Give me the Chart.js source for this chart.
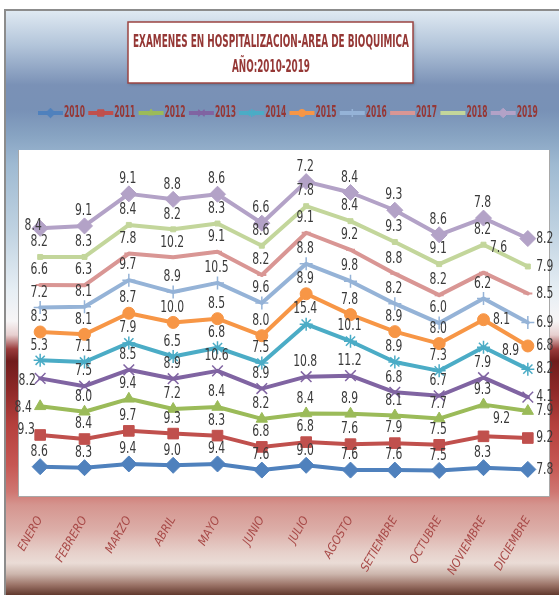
<!DOCTYPE html>
<html>
<head>
<meta charset="utf-8">
<title>Examenes en hospitalizacion - Bioquimica</title>
<script src="https://cdn.jsdelivr.net/npm/chart.js"></script>
<style>
  html, body { margin: 0; padding: 0; background: #fff; overflow: hidden; }
  #wrap { position: relative; width: 559px; height: 595px; overflow: hidden; }
  /* fondo degradado tipo Excel */
  #fondo {
    position: absolute; left: 4px; top: 9px; width: 570px; height: 600px;
    border-left: 2px solid #8c8c8c; border-top: 2px solid #8c8c8c;
    background: linear-gradient(to bottom,
      #dfe9f2 0px, #b3c5da 34px, #7a91b6 74px, #7891b6 99px, #87a3c2 124px,
      #9fbad2 154px, #bfd2e1 219px, #e6eef4 279px, #f7f5f6 310px, #e7cfcf 324px,
      #9a3c3c 338px, #701c1c 350px, #8c2827 378px, #b5403d 414px, #c65753 454px,
      #cf7772 481px, #d5958f 494px, #dcaea8 519px, #e7d1cb 542px, #eadcd6 552px,
      #cdb6ad 563px, #9b7367 574px, #5c3328 585px);
  }
  #grafico { position: absolute; left: 0; top: 0; }
</style>
</head>
<body>
<div id="wrap">
  <div id="fondo"></div>
  <canvas id="grafico" width="559" height="595"></canvas>
</div>
<script>
// meses (eje x) y años (series)
const meses = ['ENERO', 'FEBRERO', 'MARZO', 'ABRIL', 'MAYO', 'JUNIO', 'JULIO', 'AGOSTO', 'SETIEMBRE', 'OCTUBRE', 'NOVIEMBRE', 'DICIEMBRE'];
const anios = ['2010', '2011', '2012', '2013', '2014', '2015', '2016', '2017', '2018', '2019'];

const v2010 = [8.6, 8.3, 9.4, 9.0, 9.4, 7.6, 9.0, 7.6, 7.6, 7.5, 8.3, 7.8];
const v2011 = [9.3, 8.4, 9.7, 9.3, 8.3, 6.8, 6.8, 7.6, 7.9, 7.5, 9.2, 9.2];
const v2012 = [8.4, 8.0, 9.4, 7.2, 8.4, 8.2, 8.4, 8.9, 8.1, 7.7, 9.3, 7.9];
const v2013 = [8.2, 7.5, 8.5, 8.9, 10.6, 8.9, 10.8, 11.2, 6.8, 6.7, 7.9, 4.1];
const v2014 = [5.3, 7.1, 7.9, 6.5, 6.8, 7.5, 15.4, 10.1, 8.9, 7.3, 8.9, 8.2];
const v2015 = [8.3, 8.1, 8.7, 10.0, 8.5, 8.0, 8.9, 7.8, 8.9, 8.0, 8.1, 6.8];
const v2016 = [7.2, 8.1, 9.7, 8.9, 10.5, 9.6, 8.8, 9.8, 8.2, 6.0, 6.2, 6.9];
const v2017 = [6.6, 6.3, 7.8, 10.2, 9.1, 8.2, 9.1, 9.2, 8.8, 8.2, 7.6, 8.5];
const v2018 = [8.2, 8.3, 8.4, 8.2, 8.3, 8.6, 7.8, 8.4, 9.3, 9.1, 8.2, 7.9];
const v2019 = [8.4, 9.1, 9.1, 8.8, 8.6, 6.6, 7.2, 8.4, 9.3, 8.6, 7.8, 8.2];

const series = [v2010, v2011, v2012, v2013, v2014, v2015, v2016, v2017, v2018, v2019];

// estilos de cada serie
const colores = ['#4F81BD', '#C0504D', '#9BBB59', '#8064A2', '#4BACC6', '#F79646', '#95B3D7', '#D99694', '#C3D69B', '#B3A2C7'];
const marcadores = ['rectRot', 'rect', 'triangle', 'crossRot', 'star', 'circle', 'cross', 'line', 'rect', 'rectRot'];
const radios = [8, 7.5, 6.5, 7.5, 6.5, 6, 6.5, 4.5, 3.5, 8];
const bordes = [1, 1, 1, 1.5, 1.5, 1, 1.5, 2, 1, 1];

const rojoTitulo = '#953735';
const fuenteAngosta = '"Liberation Sans Narrow", "DejaVu Sans Condensed", "Arial Narrow", sans-serif';

// texto estirado en vertical (el grafico original esta deformado)
function textoEstirado(ctx, txt, x, y, sy, maxW) {
  ctx.save();
  ctx.translate(x, y);
  ctx.scale(1, sy);
  if (maxW) ctx.fillText(txt, 0, 0, maxW);
  else ctx.fillText(txt, 0, 0);
  ctx.restore();
}

// etiquetas que Excel dejo fuera de su lugar habitual (serie-mes): [dx, dy]
const desplazadas = {
  '1-0': [-14, -5], '2-0': [-17, 1], '3-0': [-13, 2], '9-0': [-7, -3],
  '1-10': [18, -18], '4-10': [27, 3], '5-10': [18, 0], '7-10': [15, -25]
};

// area blanca del grafico
const areaBlanca = {
  id: 'areaBlanca',
  beforeDraw(chart) {
    const { ctx, chartArea } = chart;
    const top = chartArea.top - 5;
    ctx.save();
    ctx.fillStyle = '#ffffff';
    ctx.fillRect(chartArea.left, top, chartArea.right - chartArea.left, chartArea.bottom - top);
    ctx.strokeStyle = '#a8a8a8';
    ctx.lineWidth = 1;
    ctx.beginPath();
    ctx.moveTo(chartArea.left + 0.5, top);
    ctx.lineTo(chartArea.left + 0.5, chartArea.bottom + 0.5);
    ctx.lineTo(chartArea.right - 0.5, chartArea.bottom + 0.5);
    ctx.lineTo(chartArea.right - 0.5, top);
    ctx.stroke();
    ctx.restore();
  }
};

// titulo en recuadro y leyenda
const tituloLeyenda = {
  id: 'tituloLeyenda',
  afterDraw(chart) {
    const ctx = chart.ctx;
    ctx.save();
    // recuadro del titulo
    ctx.shadowColor = 'rgba(0,0,0,0.35)';
    ctx.shadowBlur = 3;
    ctx.shadowOffsetX = 1;
    ctx.shadowOffsetY = 1;
    ctx.fillStyle = '#ffffff';
    ctx.fillRect(128, 22, 285, 61);
    ctx.shadowColor = 'transparent';
    ctx.strokeStyle = '#9c4543';
    ctx.lineWidth = 1.5;
    ctx.strokeRect(128, 22, 285, 61);

    ctx.fillStyle = rojoTitulo;
    ctx.textAlign = 'center';
    ctx.textBaseline = 'middle';
    ctx.font = 'bold 14px ' + fuenteAngosta;
    textoEstirado(ctx, 'EXAMENES EN HOSPITALIZACION-AREA DE BIOQUIMICA', 271, 42, 1.3, 276);
    textoEstirado(ctx, 'AÑO:2010-2019', 271, 67, 1.3, 78);

    // leyenda
    anios.forEach((anio, i) => {
      const x0 = 38 + i * 50.3;
      const y = 113;
      ctx.strokeStyle = colores[i];
      ctx.lineWidth = 4;
      ctx.beginPath();
      ctx.moveTo(x0, y);
      ctx.lineTo(x0 + 25, y);
      ctx.stroke();
      ctx.fillStyle = colores[i];
      ctx.lineWidth = bordes[i];
      if (Chart.helpers && Chart.helpers.drawPoint) {
        Chart.helpers.drawPoint(ctx, { pointStyle: marcadores[i], radius: radios[i] * 0.6, borderWidth: bordes[i], rotation: 0 }, x0 + 12.5, y);
      }
      ctx.fillStyle = rojoTitulo;
      ctx.textAlign = 'left';
      ctx.font = 'bold 12px ' + fuenteAngosta;
      textoEstirado(ctx, anio, x0 + 26, y, 1.3, 21);
    });
    ctx.restore();
  }
};

// etiquetas de datos sobre cada punto
const etiquetas = {
  id: 'etiquetas',
  afterDatasetsDraw(chart) {
    const ctx = chart.ctx;
    ctx.save();
    ctx.fillStyle = '#3a3a3a';
    ctx.font = '12px ' + fuenteAngosta;
    ctx.textAlign = 'center';
    ctx.textBaseline = 'middle';
    chart.data.datasets.forEach((ds, i) => {
      const meta = chart.getDatasetMeta(i);
      meta.data.forEach((pt, j) => {
        let dx = -1, dy = -15;
        if (j === meses.length - 1) { dx = 17; dy = 0; }
        const d = desplazadas[i + '-' + j];
        if (d) { dx = d[0]; dy = d[1]; }
        textoEstirado(ctx, ds.data[j].toFixed(1), pt.x + dx, pt.y + dy, 1.35);
      });
    });
    ctx.restore();
  }
};

const ctx = document.getElementById('grafico').getContext('2d');
const grafico = new Chart(ctx, {
  type: 'line',
  data: {
    labels: meses,
    datasets: anios.map((anio, i) => ({
      label: anio,
      data: series[i],
      borderColor: colores[i],
      backgroundColor: colores[i],
      borderWidth: 4,
      borderJoinStyle: 'round',
      borderCapStyle: 'round',
      pointStyle: marcadores[i],
      pointRadius: radios[i],
      pointHoverRadius: radios[i],
      pointBorderWidth: bordes[i],
      pointBackgroundColor: colores[i],
      pointBorderColor: colores[i],
      fill: false,
      tension: 0
    }))
  },
  options: {
    responsive: false,
    animation: false,
    devicePixelRatio: 1,
    layout: { padding: { left: 18, right: 7, top: 155, bottom: 0 } },
    plugins: {
      legend: { display: false },
      title: { display: false },
      tooltip: { enabled: false }
    },
    scales: {
      x: {
        offset: true,
        grid: { display: false, drawTicks: false },
        border: { display: false },
        ticks: {
          autoSkip: false,
          minRotation: 60,
          maxRotation: 60,
          padding: 18,
          color: '#a84a48',
          font: { family: fuenteAngosta, size: 12, style: 'italic' }
        },
        afterFit(scale) { scale.height = 99; }
      },
      y: {
        display: false,
        stacked: true,
        min: 0,
        max: 100
      }
    }
  },
  plugins: [areaBlanca, etiquetas, tituloLeyenda]
});
</script>
</body>
</html>
